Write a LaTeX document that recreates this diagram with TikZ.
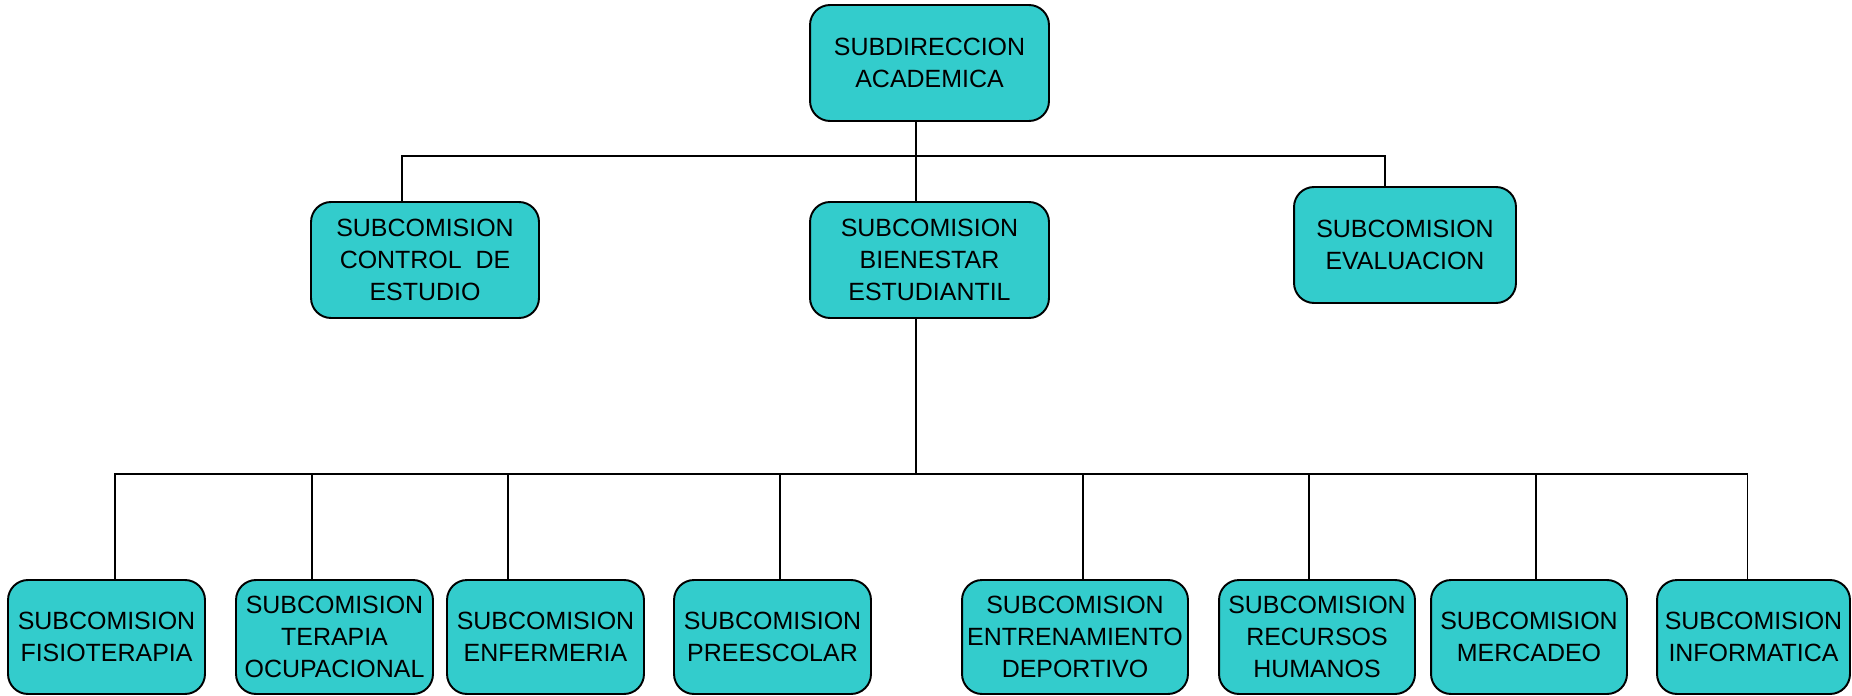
\documentclass[tikz,border=0pt]{standalone}
\usepackage{fontspec}
\setmainfont{Liberation Sans}
\definecolor{turquesa}{HTML}{33CCCC}
\tikzset{
  caja/.style={draw, line width=1.1pt, rounded corners=0.4cm, fill=turquesa,
    align=center, inner sep=0pt, minimum height=2.32cm,
    font=\fontsize{14.2}{18.2}\selectfont},
  linea/.style={line width=1.1pt}
}
\begin{document}
\begin{tikzpicture}[x=0.02cm,y=-0.02cm]
\useasboundingbox (0,0) rectangle (1852,696);

\node[caja, minimum width=4.78cm] (dir) at (929.5,63) {SUBDIRECCION\\ACADEMICA};

\node[caja, minimum width=4.56cm] (ctrl) at (425,260) {SUBCOMISION\\CONTROL\ \ DE\\ESTUDIO};
\node[caja, minimum width=4.78cm] (bien) at (929.5,260) {SUBCOMISION\\BIENESTAR\\ESTUDIANTIL};
\node[caja, minimum width=4.44cm] (eval) at (1405,245) {SUBCOMISION\\EVALUACION};

\node[caja, minimum width=3.94cm, minimum height=2.28cm] (fis) at (106.5,637) {SUBCOMISION\\FISIOTERAPIA};
\node[caja, minimum width=3.94cm, minimum height=2.28cm] (ter) at (334.5,637) {SUBCOMISION\\TERAPIA\\OCUPACIONAL};
\node[caja, minimum width=3.94cm, minimum height=2.28cm] (enf) at (545.5,637) {SUBCOMISION\\ENFERMERIA};
\node[caja, minimum width=3.94cm, minimum height=2.28cm] (pre) at (772.5,637) {SUBCOMISION\\PREESCOLAR};
\node[caja, minimum width=4.52cm, minimum height=2.28cm] (ent) at (1075,637) {SUBCOMISION\\ENTRENAMIENTO\\DEPORTIVO};
\node[caja, minimum width=3.92cm, minimum height=2.28cm] (rec) at (1317,637) {SUBCOMISION\\RECURSOS\\HUMANOS};
\node[caja, minimum width=3.92cm, minimum height=2.28cm] (mer) at (1529,637) {SUBCOMISION\\MERCADEO};
\node[caja, minimum width=3.86cm, minimum height=2.28cm] (inf) at (1753.5,637) {SUBCOMISION\\INFORMATICA};

\coordinate (bus1) at (916,156);
\coordinate (bus2) at (916,474);

\draw[linea] (dir.south -| bus1) -- (bus1);
\draw[linea] ([xshift=-0.46cm]ctrl.north) |- (bus1) -| ([xshift=-0.4cm]eval.north);
\draw[linea] (bus1) -- (bien.north -| bus1);

\draw[linea] (bien.south -| bus2) -- (bus2);
\draw[linea] ([xshift=0.17cm]fis.north) |- (bus2) -| ([xshift=-0.12cm]inf.north);
\foreach \n/\d in {ter/-0.45, enf/-0.75, pre/0.15, ent/0.16, rec/-0.16, mer/0.14}
  \draw[linea] ([xshift=\d cm]\n.north) -- ([xshift=\d cm]\n.north |- bus2);
\end{tikzpicture}
\end{document}
